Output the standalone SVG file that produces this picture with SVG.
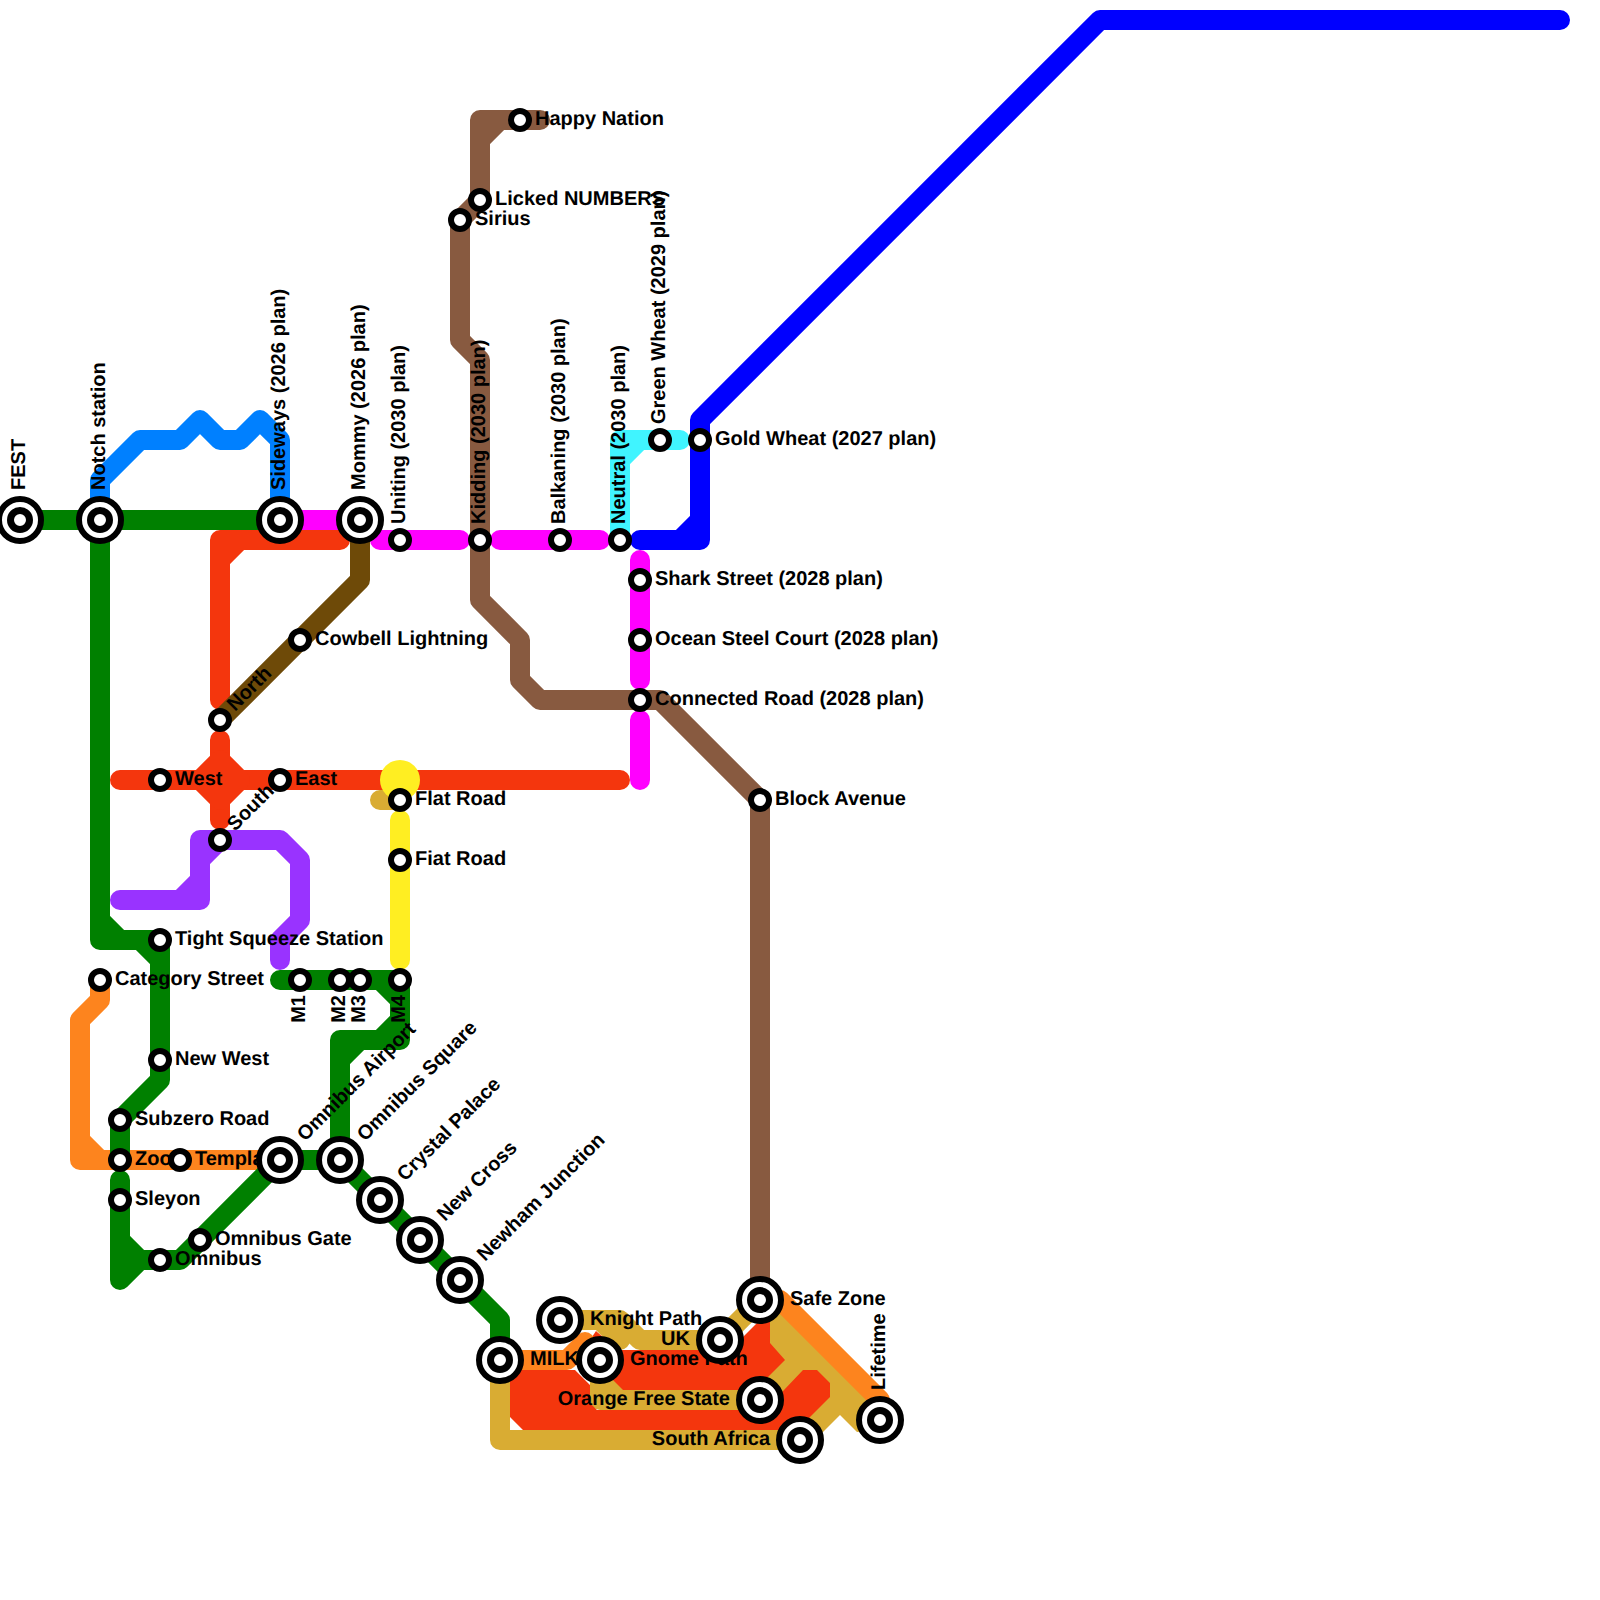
<svg xmlns="http://www.w3.org/2000/svg" width="1600" height="1600" viewBox="0 0 1600 1600">
<style>
.c{fill:none;stroke-width:20;stroke-linecap:round;stroke-linejoin:round}
.green{stroke:#008000}.sky{stroke:#0080ff}.mag{stroke:#ff00ff}.red{stroke:#f4360d}.umber{stroke:#6e4a08}.brown{stroke:#885a40}.cyan{stroke:#40f4ff}.blue{stroke:#0000ff}.purple{stroke:#9933ff}.yellow{stroke:#ffee22}.gold{stroke:#d9ac33}.orange{stroke:#fd841e}
.fred{fill:#f4360d}.fgold{fill:#d9ac33}
.o{fill:#fff;stroke:#000;stroke-width:6}
.d{fill:#fff;stroke:#000;stroke-width:7}
.b{fill:#fff;stroke:#000;stroke-width:6}
text{font-family:"Liberation Sans",Arial,sans-serif;font-weight:bold;font-size:20px;fill:#000;text-rendering:geometricPrecision}
.e{text-anchor:end}
</style>
<g id="connectors">
<path class="c gold" d="M500 1360V1440H800M600 1370V1400H770M380 800H400"/>
<path class="c gold" d="M560 1320H620L640 1340H720L760 1300M600 1320L620 1340"/>
<polygon class="fgold" points="590,1360 610,1365 635,1390 590,1400"/>
<polygon class="fgold" points="770,1300 880,1410 880,1430 857,1432 840,1415 805,1450 790,1440 790,1410 760,1390 760,1300"/>
<polygon class="fred" points="590,1340 596,1331 612,1345 600,1352"/>
<polygon class="fred" points="600,1350 730,1350 760,1320 770,1320 770,1343 785,1360 755,1390 623,1390 600,1367"/>
<polygon class="fred" points="510,1370 575,1370 590,1385 590,1403 597,1410 765,1410 803,1370 817,1370 830,1383 830,1397 797,1430 523,1430 510,1417"/>
<path class="c orange" d="M760 1300H780L880 1400V1420M500 1360H567L585 1342M100 980V1000L80 1020V1160H280M80 1140L100 1160"/>
<path class="c sky" d="M100 520V480L140 440H180L200 420L220 440H240L260 420L280 440V520"/>
<path class="c green" d="M20 520H280M100 520V940H160V1080L120 1120V1160M100 920L120 940M140 940L160 960"/>
<path class="c green" d="M120 1180V1280L140 1260H180L280 1160H340M120 1240L140 1260"/>
<path class="c green" d="M280 980H400V1040H340V1160M380 980L400 1000M400 1020L380 1040M340 1060L360 1040"/>
<path class="c green" d="M340 1160L500 1320V1360"/>
<path class="c mag" d="M280 520H360M380 540H460M500 540H600M640 560V680M640 720V780"/>
<path class="c red" d="M220 700V540H340M220 560L240 540M120 780H620M220 740V820"/>
<path class="c red" d="M220 760L240 780L220 800L200 780Z"/>
<path class="c umber" d="M360 520V580L220 720"/>
<path class="c brown" d="M540 120H480V200L460 220V340L480 360V600L520 640V680L540 700H660L760 800V1300M480 140L500 120"/>
<path class="c cyan" d="M620 540V440H680M620 460L640 440"/>
<path class="c blue" d="M1560 20H1100L700 420V540H640M680 540L700 520"/>
<path class="c purple" d="M120 900H200V840H280L300 860V920L280 940V960M180 900L200 880M200 860L220 840"/>
<path class="c yellow" d="M400 820V960"/>
<circle cx="400" cy="780" r="20" fill="#ffee22"/>
</g>
<g id="n-fest"><text transform="translate(25,490) rotate(-90)">FEST</text><circle class="b" cx="20" cy="520" r="21"/><circle class="d" cx="20" cy="520" r="9.500"/></g>
<g id="n-notch"><text transform="translate(105,490) rotate(-90)">Notch station</text><circle class="b" cx="100" cy="520" r="21"/><circle class="d" cx="100" cy="520" r="9.500"/></g>
<g id="n-sideways"><text transform="translate(285,490) rotate(-90)">Sideways (2026 plan)</text><circle class="b" cx="280" cy="520" r="21"/><circle class="d" cx="280" cy="520" r="9.500"/></g>
<g id="n-mommy"><text transform="translate(365,490) rotate(-90)">Mommy (2026 plan)</text><circle class="b" cx="360" cy="520" r="21"/><circle class="d" cx="360" cy="520" r="9.500"/></g>
<g id="n-uniting"><text transform="translate(405,524) rotate(-90)">Uniting (2030 plan)</text><circle class="o" cx="400" cy="540" r="9"/></g>
<g id="n-kidding"><text transform="translate(485,524) rotate(-90)">Kidding (2030 plan)</text><circle class="o" cx="480" cy="540" r="9"/></g>
<g id="n-balkaning"><text transform="translate(565,524) rotate(-90)">Balkaning (2030 plan)</text><circle class="o" cx="560" cy="540" r="9"/></g>
<g id="n-neutral"><text transform="translate(625,524) rotate(-90)">Neutral (2030 plan)</text><circle class="o" cx="620" cy="540" r="9"/></g>
<g id="n-green-wheat"><text transform="translate(665,424) rotate(-90)">Green Wheat (2029 plan)</text><circle class="o" cx="660" cy="440" r="9"/></g>
<g id="n-gold-wheat"><text x="715" y="445">Gold Wheat (2027 plan)</text><circle class="o" cx="700" cy="440" r="9"/></g>
<g id="n-happy"><text x="535" y="125">Happy Nation</text><circle class="o" cx="520" cy="120" r="9"/></g>
<g id="n-sirius"><text x="475" y="225">Sirius</text><circle class="o" cx="460" cy="220" r="9"/></g>
<g id="n-licked"><text x="495" y="205">Licked NUMBERS</text><circle class="o" cx="480" cy="200" r="9"/></g>
<g id="n-shark"><text x="655" y="585">Shark Street (2028 plan)</text><circle class="o" cx="640" cy="580" r="9"/></g>
<g id="n-ocean"><text x="655" y="645">Ocean Steel Court (2028 plan)</text><circle class="o" cx="640" cy="640" r="9"/></g>
<g id="n-connected"><text x="655" y="705">Connected Road (2028 plan)</text><circle class="o" cx="640" cy="700" r="9"/></g>
<g id="n-block"><text x="775" y="805">Block Avenue</text><circle class="o" cx="760" cy="800" r="9"/></g>
<g id="n-cowbell"><text x="315" y="645">Cowbell Lightning</text><circle class="o" cx="300" cy="640" r="9"/></g>
<g id="n-north"><text transform="translate(235,712) rotate(-45)">North</text><circle class="o" cx="220" cy="720" r="9"/></g>
<g id="n-west"><text x="175" y="785">West</text><circle class="o" cx="160" cy="780" r="9"/></g>
<g id="n-south"><text transform="translate(235,832) rotate(-45)">South</text><circle class="o" cx="220" cy="840" r="9"/></g>
<g id="n-east"><text x="295" y="785">East</text><circle class="o" cx="280" cy="780" r="9"/></g>
<g id="n-flat"><text x="415" y="805">Flat Road</text><circle class="o" cx="400" cy="800" r="9"/></g>
<g id="n-fiat"><text x="415" y="865">Fiat Road</text><circle class="o" cx="400" cy="860" r="9"/></g>
<g id="n-tight"><text x="175" y="945">Tight Squeeze Station</text><circle class="o" cx="160" cy="940" r="9"/></g>
<g id="n-category"><text x="115" y="985">Category Street</text><circle class="o" cx="100" cy="980" r="9"/></g>
<g id="n-m1"><text class="e" transform="translate(305,995) rotate(-90)">M1</text><circle class="o" cx="300" cy="980" r="9"/></g>
<g id="n-m2"><text class="e" transform="translate(345,995) rotate(-90)">M2</text><circle class="o" cx="340" cy="980" r="9"/></g>
<g id="n-m3"><text class="e" transform="translate(365,995) rotate(-90)">M3</text><circle class="o" cx="360" cy="980" r="9"/></g>
<g id="n-m4"><text class="e" transform="translate(405,995) rotate(-90)">M4</text><circle class="o" cx="400" cy="980" r="9"/></g>
<g id="n-new-west"><text x="175" y="1065">New West</text><circle class="o" cx="160" cy="1060" r="9"/></g>
<g id="n-subzero"><text x="135" y="1125">Subzero Road</text><circle class="o" cx="120" cy="1120" r="9"/></g>
<g id="n-zoo"><text x="135" y="1165">Zoo</text><circle class="o" cx="120" cy="1160" r="9"/></g>
<g id="n-temple"><text x="195" y="1165">Templa</text><circle class="o" cx="180" cy="1160" r="9"/></g>
<g id="n-sleyon"><text x="135" y="1205">Sleyon</text><circle class="o" cx="120" cy="1200" r="9"/></g>
<g id="n-omnibus"><text x="175" y="1265">Omnibus</text><circle class="o" cx="160" cy="1260" r="9"/></g>
<g id="n-omnibus-gate"><text x="215" y="1245">Omnibus Gate</text><circle class="o" cx="200" cy="1240" r="9"/></g>
<g id="n-omnibus-airport"><text transform="translate(305,1142) rotate(-45)">Omnibus Airport</text><circle class="b" cx="280" cy="1160" r="21"/><circle class="d" cx="280" cy="1160" r="9.500"/></g>
<g id="n-omnibus-square"><text transform="translate(365,1142) rotate(-45)">Omnibus Square</text><circle class="b" cx="340" cy="1160" r="21"/><circle class="d" cx="340" cy="1160" r="9.500"/></g>
<g id="n-crystal"><text transform="translate(405,1182) rotate(-45)">Crystal Palace</text><circle class="b" cx="380" cy="1200" r="21"/><circle class="d" cx="380" cy="1200" r="9.500"/></g>
<g id="n-new-cross"><text transform="translate(445,1222) rotate(-45)">New Cross</text><circle class="b" cx="420" cy="1240" r="21"/><circle class="d" cx="420" cy="1240" r="9.500"/></g>
<g id="n-newham"><text transform="translate(485,1262) rotate(-45)">Newham Junction</text><circle class="b" cx="460" cy="1280" r="21"/><circle class="d" cx="460" cy="1280" r="9.500"/></g>
<g id="n-milk"><text x="530" y="1365">MILK</text><circle class="b" cx="500" cy="1360" r="21"/><circle class="d" cx="500" cy="1360" r="9.500"/></g>
<g id="n-knight"><text x="590" y="1325">Knight Path</text><circle class="b" cx="560" cy="1320" r="21"/><circle class="d" cx="560" cy="1320" r="9.500"/></g>
<g id="n-gnome"><text x="630" y="1365">Gnome Path</text><circle class="b" cx="600" cy="1360" r="21"/><circle class="d" cx="600" cy="1360" r="9.500"/></g>
<g id="n-uk"><text class="e" x="690" y="1345">UK</text><circle class="b" cx="720" cy="1340" r="21"/><circle class="d" cx="720" cy="1340" r="9.500"/></g>
<g id="n-safe"><text x="790" y="1305">Safe Zone</text><circle class="b" cx="760" cy="1300" r="21"/><circle class="d" cx="760" cy="1300" r="9.500"/></g>
<g id="n-ofs"><text class="e" x="730" y="1405">Orange Free State</text><circle class="b" cx="760" cy="1400" r="21"/><circle class="d" cx="760" cy="1400" r="9.500"/></g>
<g id="n-sa"><text class="e" x="770" y="1445">South Africa</text><circle class="b" cx="800" cy="1440" r="21"/><circle class="d" cx="800" cy="1440" r="9.500"/></g>
<g id="n-lifetime"><text transform="translate(885,1390) rotate(-90)">Lifetime</text><circle class="b" cx="880" cy="1420" r="21"/><circle class="d" cx="880" cy="1420" r="9.500"/></g>
</svg>
